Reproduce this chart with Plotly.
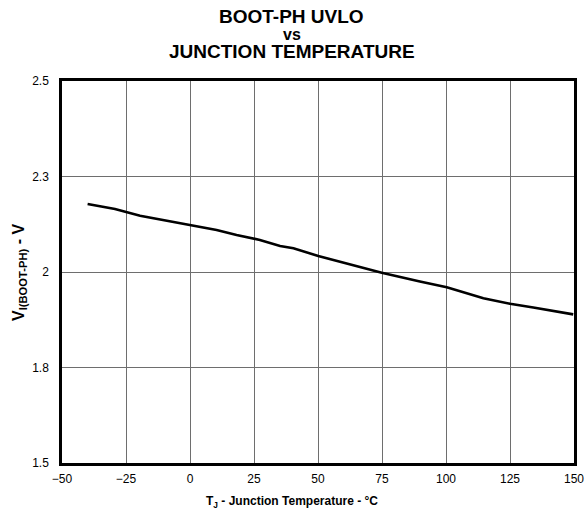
import plotly.graph_objects as go

# Junction temperature (°C) and BOOT-PH UVLO threshold (V)
temp_c = [-40, -29.3, -19.5, -10.4, 0.6, 10.4, 18.2, 27.3, 35.2, 40.4, 50.1,
          61.2, 74.9, 89.8, 100.3, 114.6, 125, 134.1, 149.7]
uvlo_v = [2.178, 2.165, 2.147, 2.136, 2.121, 2.110, 2.097, 2.084, 2.068, 2.062,
          2.042, 2.023, 1.998, 1.975, 1.960, 1.931, 1.917, 1.907, 1.889]

x_ticks = [-50, -25, 0, 25, 50, 75, 100, 125, 150]
y_ticks = [1.5, 1.75, 2.0, 2.25, 2.5]
y_tick_text = ["1.5", "1.8", "2", "2.3", "2.5"]

title_lines = ["BOOT-PH UVLO", "vs", "JUNCTION TEMPERATURE"]
x_title = "T<sub>J</sub> - Junction Temperature - °C"
y_title = "V<sub>I(BOOT-PH)</sub> - V"

FONT = "Liberation Sans, Arial, sans-serif"

fig = go.Figure()
fig.add_trace(go.Scatter(
    x=temp_c, y=uvlo_v, mode="lines",
    line=dict(color="black", width=2.6),
    hoverinfo="skip", showlegend=False,
))

axis_common = dict(
    showgrid=True, gridcolor="#6e6e6e", gridwidth=1,
    showline=True, linecolor="black", linewidth=2.5, mirror=True,
    ticks="", zeroline=False, automargin=False,
    tickfont=dict(family=FONT, size=12, color="black"),
)

fig.update_xaxes(range=[-50, 150], tickvals=x_ticks, ticklabelstandoff=3,
                 **axis_common)
fig.update_yaxes(range=[1.5, 2.5], tickvals=y_ticks, ticktext=y_tick_text,
                 ticklabelstandoff=8, **axis_common)

# three-line title, each line placed on its own
title_y = [1.168, 1.121, 1.077]
title_size = [19, 16, 19]
for text, yy, sz in zip(title_lines, title_y, title_size):
    fig.add_annotation(
        text=f"<b>{text}</b>", xref="paper", yref="paper",
        x=0.449, y=yy, xanchor="center", yanchor="middle", showarrow=False,
        font=dict(family=FONT, size=sz, color="black"),
    )

# axis titles
fig.add_annotation(
    text=f"<b>{x_title}</b>", xref="paper", yref="paper",
    x=0.449, y=-0.102, xanchor="center", yanchor="middle", showarrow=False,
    font=dict(family=FONT, size=12, color="black"),
)
fig.add_annotation(
    text=f"<b>{y_title}</b>", xref="paper", yref="paper",
    x=-0.084, y=0.5, xanchor="center", yanchor="middle", showarrow=False,
    textangle=-90, font=dict(family=FONT, size=16, color="black"),
)

fig.update_layout(
    width=587, height=517,
    margin=dict(l=62, r=13, t=81, b=54),
    paper_bgcolor="white", plot_bgcolor="white",
    font=dict(family=FONT, color="black"),
)

fig.write_html("out.html")
